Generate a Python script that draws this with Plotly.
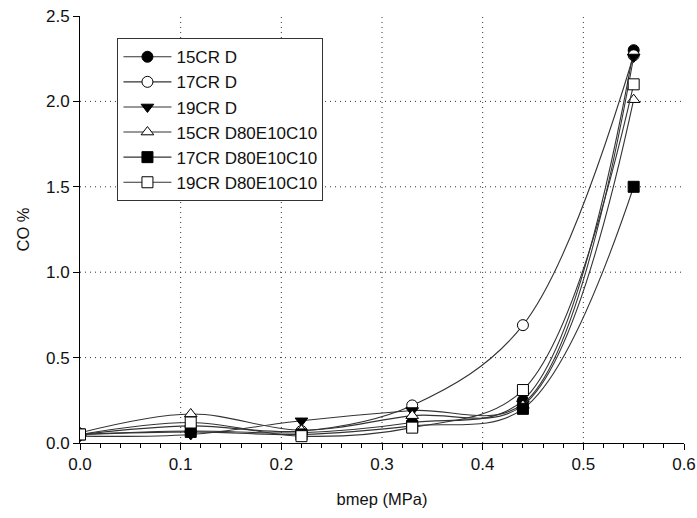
import plotly.graph_objects as go

bmep = [0.0, 0.11, 0.22, 0.33, 0.44, 0.55]

series_names = ["15CR D", "17CR D", "19CR D", "15CR D80E10C10", "17CR D80E10C10", "19CR D80E10C10"]
co_15CR_D = [0.05, 0.07, 0.06, 0.12, 0.25, 2.30]
co_17CR_D = [0.05, 0.10, 0.07, 0.22, 0.69, 2.27]
co_19CR_D = [0.04, 0.05, 0.13, 0.19, 0.23, 2.26]
co_15CR_DEC = [0.06, 0.17, 0.075, 0.16, 0.22, 2.01]
co_17CR_DEC = [0.05, 0.065, 0.05, 0.10, 0.20, 1.50]
co_19CR_DEC = [0.05, 0.12, 0.04, 0.09, 0.31, 2.10]

x_ticks = [0, 0.1, 0.2, 0.3, 0.4, 0.5, 0.6]
x_ticktext = ["0.0", "0.1", "0.2", "0.3", "0.4", "0.5", "0.6"]
y_ticks = [0, 0.5, 1.0, 1.5, 2.0, 2.5]
y_ticktext = ["0.0", "0.5", "1.0", "1.5", "2.0", "2.5"]

all_series = [co_15CR_D, co_17CR_D, co_19CR_D, co_15CR_DEC, co_17CR_DEC, co_19CR_DEC]
symbols = ["circle", "circle", "triangle-down", "triangle-up", "square", "square"]
fills = ["black", "white", "black", "white", "black", "white"]

fig = go.Figure()
for name, ys, sym, fc in zip(series_names, all_series, symbols, fills):
    fig.add_trace(go.Scatter(
        x=bmep, y=ys, name=name, mode="lines+markers",
        line=dict(color="#333333", width=1.1, shape="spline", smoothing=1.0),
        marker=dict(symbol=sym, size=11, color=fc, line=dict(color="black", width=1)),
    ))

# dotted interior grid lines (not at the plot edges)
grid_style = dict(color="#333333", width=1, dash="1px,4px")
for gx in x_ticks[1:-1]:
    fig.add_shape(type="line", xref="x", yref="paper", x0=gx, x1=gx, y0=0, y1=1,
                  line=grid_style, layer="below")
for gy in y_ticks[1:-1]:
    fig.add_shape(type="line", xref="paper", yref="y", x0=0, x1=1, y0=gy, y1=gy,
                  line=grid_style, layer="below")

font_family = "Liberation Sans, Arial, sans-serif"

fig.update_layout(
    width=697, height=518,
    margin=dict(l=80, r=13, t=16, b=75, autoexpand=False),
    plot_bgcolor="white", paper_bgcolor="white",
    font=dict(family=font_family, size=16, color="#111111"),
    showlegend=True,
    legend=dict(x=0.062, y=0.948, xanchor="left", yanchor="top",
                bordercolor="#333333", borderwidth=1, bgcolor="white",
                font=dict(size=17, family=font_family),
                itemwidth=48, tracegroupgap=0),
    xaxis=dict(range=[0, 0.6], tickvals=x_ticks, ticktext=x_ticktext,
               showline=True, linecolor="black", linewidth=1,
               ticks="outside", ticklen=6, tickcolor="black",
               minor=dict(ticks="outside", dtick=0.02, ticklen=4, tickcolor="black", showgrid=False),
               showgrid=False, zeroline=False, automargin=False,
               title=dict(text="bmep (MPa)", font=dict(size=16.5), standoff=20),
               tickfont=dict(size=17)),
    yaxis=dict(range=[0, 2.5], tickvals=y_ticks, ticktext=y_ticktext,
               showline=True, linecolor="black", linewidth=1,
               ticks="outside", ticklen=6, tickcolor="black",
               showgrid=False, zeroline=False, automargin=False,
               title=dict(text="CO %", font=dict(size=16.5), standoff=12),
               tickfont=dict(size=17)),
)

fig.write_html("out.html")
